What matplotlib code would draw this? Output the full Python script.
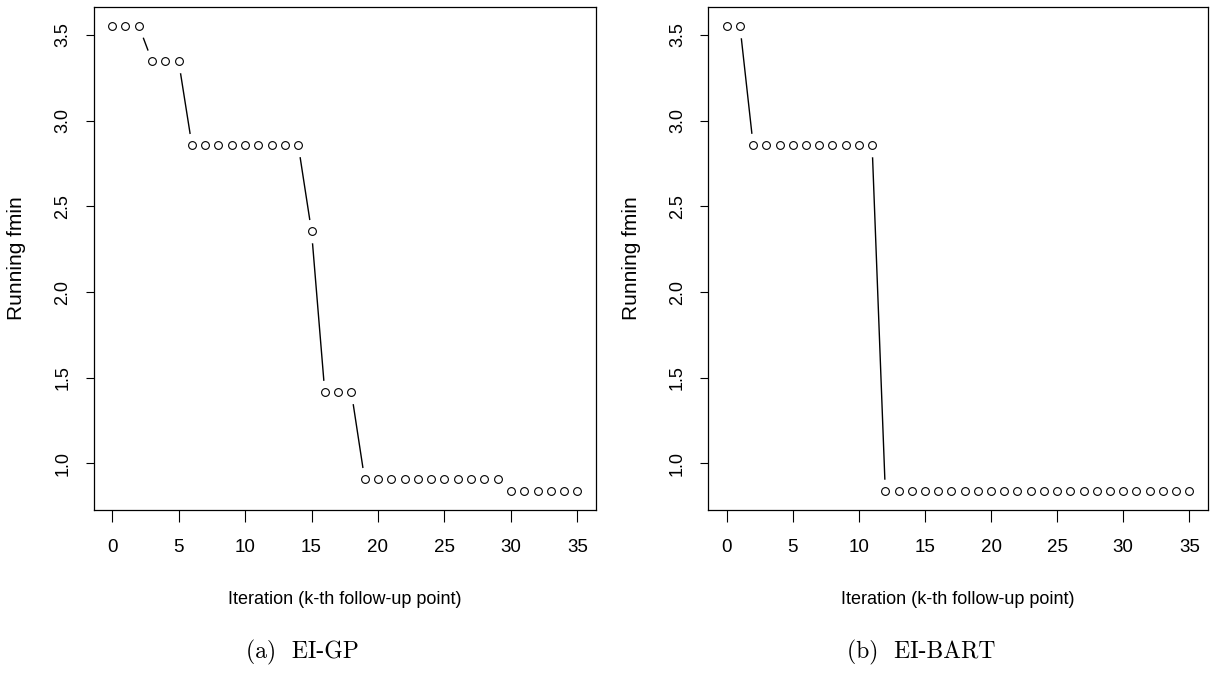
import matplotlib
matplotlib.use("Agg")
import matplotlib.pyplot as plt

# running minimum of f after each follow-up point
iterations = list(range(36))
fmin_gp = [3.555] * 3 + [3.349] * 3 + [2.859] * 9 + [2.356] + [1.415] * 3 + [0.907] * 11 + [0.837] * 6
fmin_bart = [3.555] * 2 + [2.859] * 10 + [0.837] * 24

panels = [fmin_gp, fmin_bart]
captions = ["(a)  EI-GP", "(b)  EI-BART"]
x_ticks = [0, 5, 10, 15, 20, 25, 30, 35]
y_ticks = [1.0, 1.5, 2.0, 2.5, 3.0, 3.5]

plt.rcParams["font.family"] = ["Liberation Sans", "DejaVu Sans"]

fig = plt.figure(figsize=(12.2, 6.75), dpi=100)
W, H = 1220, 675

# axes boxes in pixels: left, right, top, bottom
boxes = [(93.5, 596.0, 7, 510), (708.2, 1207.8, 7, 510)]
caption_x = [302, 921]

for vals, box, cap, cx in zip(panels, boxes, captions, caption_x):
    l, r, t, b = box
    ax = fig.add_axes([l / W, 1 - b / H, (r - l) / W, (b - t) / H])

    # R type="b": line, then white halos to cut gaps, then open circles
    ax.plot(iterations, vals, color="black", lw=1.0, zorder=1, clip_on=False)
    ax.plot(iterations, vals, ls="none", marker="o", ms=17, mfc="white",
            mec="none", zorder=2, clip_on=False)
    ax.plot(iterations, vals, ls="none", marker="o", ms=5.6, mfc="white",
            mec="black", mew=0.8, zorder=3, clip_on=False)

    # R default 4% axis expansion
    xpad = 0.04 * (max(iterations) - min(iterations))
    ypad = 0.04 * (max(vals) - min(vals))
    ax.set_xlim(min(iterations) - xpad, max(iterations) + xpad)
    ax.set_ylim(min(fmin_bart + fmin_gp) - ypad, max(vals) + ypad)

    ax.set_xticks(x_ticks)
    ax.set_yticks(y_ticks)
    ax.set_yticklabels([f"{v:.1f}" for v in y_ticks])
    ax.tick_params(axis="x", length=8.6, width=0.8, pad=12, labelsize=13.5)
    ax.tick_params(axis="y", length=6, width=0.8, pad=10, labelsize=13,
                   labelrotation=90)
    for lab in ax.get_yticklabels():
        lab.set_va("center")

    for s in ax.spines.values():
        s.set_linewidth(0.9)

    ax.set_xlabel("Iteration (k-th follow-up point)", fontsize=13, va="center")
    ax.xaxis.set_label_coords(0.5, (b - 600) / (b - t))
    ax.set_ylabel("Running fmin", fontsize=15, va="center")
    ax.yaxis.set_label_coords(-77 / (r - l), 0.5)

    fig.text(cx / W, 1 - 652 / H, cap, family="cmr10", fontsize=17,
             ha="center", va="center")

fig.savefig("out.png", dpi=100)
